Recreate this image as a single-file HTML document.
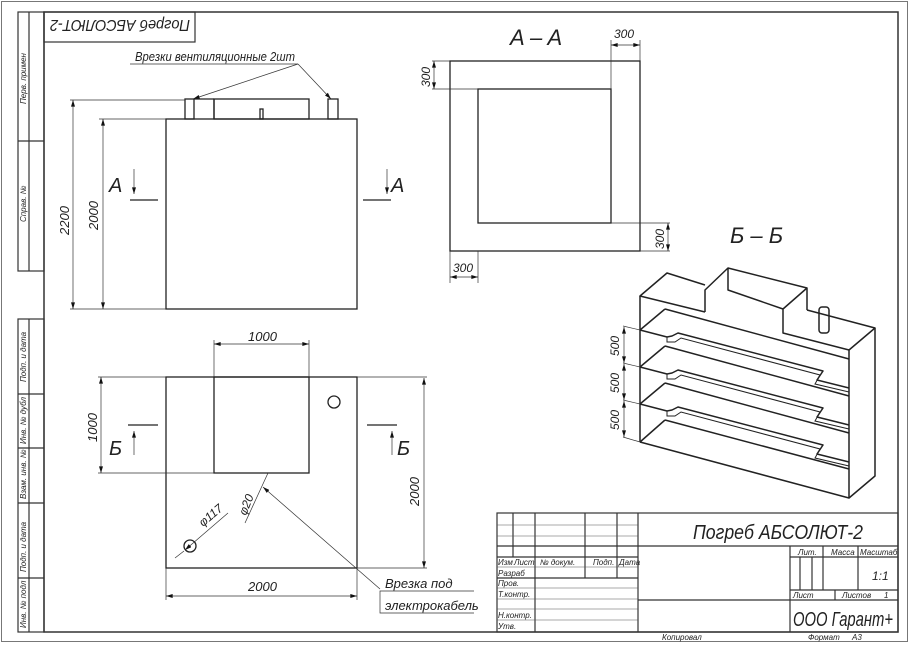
<!DOCTYPE html>
<html><head><meta charset="utf-8"><style>
html,body{margin:0;padding:0;background:#fff;}
svg{display:block;}
text{font-family:"Liberation Sans Narrow","Liberation Sans",sans-serif;font-style:italic;fill:#222;}
</style></head><body>
<svg width="910" height="645" viewBox="0 0 910 645" xmlns="http://www.w3.org/2000/svg">
<defs>
<marker id="ar" viewBox="0 0 10 6" refX="10" refY="3" markerWidth="7" markerHeight="4" orient="auto-start-reverse" markerUnits="userSpaceOnUse"><path d="M0,0 L10,3 L0,6 z" fill="#111"/></marker>
</defs>
<!-- frames -->
<rect x="1.5" y="1.5" width="906" height="640" fill="none" stroke="#777" stroke-width="1"/>
<rect x="44" y="12" width="854" height="620" fill="none" stroke="#333" stroke-width="1.5"/>
<!-- left strips -->
<g fill="none" stroke="#333" stroke-width="1.2">
<rect x="18" y="12" width="26" height="259"/><line x1="29" y1="12" x2="29" y2="271"/><line x1="18" y1="141" x2="44" y2="141"/>
<rect x="18" y="319" width="26" height="313"/><line x1="29" y1="319" x2="29" y2="632"/>
<line x1="18" y1="394" x2="44" y2="394"/><line x1="18" y1="448" x2="44" y2="448"/><line x1="18" y1="503" x2="44" y2="503"/><line x1="18" y1="578" x2="44" y2="578"/>
</g>
<g font-size="8">
<text transform="translate(26,104) rotate(-90)">Перв. примен</text>
<text transform="translate(26,222) rotate(-90)">Справ. №</text>
<text transform="translate(26,382) rotate(-90)">Подп. и дата</text>
<text transform="translate(26,444) rotate(-90)">Инв. № дубл</text>
<text transform="translate(26,499) rotate(-90)">Взам. инв. №</text>
<text transform="translate(26,572) rotate(-90)">Подп. и дата</text>
<text transform="translate(26,628) rotate(-90)">Инв. № подл</text>
</g>
<!-- top-left title box -->
<rect x="44" y="12" width="151" height="30" fill="none" stroke="#333" stroke-width="1.2"/>
<text transform="translate(190,20) rotate(180)" font-size="16" textLength="140" lengthAdjust="spacingAndGlyphs">Погреб АБСОЛЮТ-2</text>

<!-- ventilation label -->
<text x="135" y="61" font-size="13" textLength="160" lengthAdjust="spacingAndGlyphs">Врезки вентиляционные 2шт</text>
<g stroke="#333" stroke-width="0.7" fill="none">
<line x1="130" y1="64" x2="298" y2="64"/>
<line x1="298" y1="64" x2="193" y2="99" marker-end="url(#ar)"/>
<line x1="298" y1="64" x2="331" y2="99" marker-end="url(#ar)"/>
</g>
<!-- front view -->
<g stroke="#222" stroke-width="1.3" fill="none">
<rect x="166" y="119" width="191" height="190"/>
<rect x="185" y="99" width="9" height="20"/>
<line x1="194" y1="99" x2="214" y2="99"/><line x1="214" y1="99" x2="214" y2="119"/>
<rect x="214" y="99" width="95" height="20"/>
<rect x="260" y="109" width="3" height="10"/>
<rect x="328" y="99" width="10" height="20"/>
<line x1="130" y1="200" x2="158" y2="200"/><line x1="363" y1="200" x2="391" y2="200"/>
</g>
<g stroke="#333" stroke-width="0.7" fill="none">
<line x1="70" y1="100" x2="185" y2="100"/><line x1="70" y1="309" x2="166" y2="309"/><line x1="99" y1="119" x2="166" y2="119"/>
<line x1="73" y1="100" x2="73" y2="309" marker-start="url(#ar)" marker-end="url(#ar)"/>
<line x1="103" y1="119" x2="103" y2="309" marker-start="url(#ar)" marker-end="url(#ar)"/>
<line x1="134" y1="169" x2="134" y2="194" marker-end="url(#ar)"/>
<line x1="387" y1="169" x2="387" y2="194" marker-end="url(#ar)"/>
</g>
<text transform="translate(69,235) rotate(-90)" font-size="13">2200</text>
<text transform="translate(98,230) rotate(-90)" font-size="13">2000</text>
<text x="109" y="192" font-size="20">A</text>
<text x="391" y="192" font-size="20">A</text>

<!-- A-A -->
<text x="510" y="45" font-size="22">A – A</text>
<g stroke="#222" stroke-width="1.3" fill="none">
<rect x="450" y="61" width="190" height="190"/>
<rect x="478" y="89" width="133" height="134"/>
</g>
<g stroke="#333" stroke-width="0.7" fill="none">
<line x1="611" y1="40" x2="611" y2="89"/><line x1="640" y1="40" x2="640" y2="61"/>
<line x1="611" y1="45" x2="640" y2="45" marker-start="url(#ar)" marker-end="url(#ar)"/>
<line x1="432" y1="61" x2="450" y2="61"/><line x1="432" y1="89" x2="478" y2="89"/>
<line x1="434" y1="61" x2="434" y2="89" marker-start="url(#ar)" marker-end="url(#ar)"/>
<line x1="611" y1="223" x2="670" y2="223"/><line x1="640" y1="251" x2="670" y2="251"/>
<line x1="668" y1="223" x2="668" y2="251" marker-start="url(#ar)" marker-end="url(#ar)"/>
<line x1="450" y1="251" x2="450" y2="283"/><line x1="478" y1="251" x2="478" y2="283"/>
<line x1="450" y1="277" x2="478" y2="277" marker-start="url(#ar)" marker-end="url(#ar)"/>
</g>
<g font-size="12">
<text x="614" y="38">300</text>
<text transform="translate(430,87) rotate(-90)">300</text>
<text transform="translate(664,249) rotate(-90)">300</text>
<text x="453" y="272">300</text>
</g>

<!-- Б-Б -->
<text x="730" y="243" font-size="22">Б – Б</text>
<g stroke="#222" stroke-width="1.5" fill="none" stroke-linejoin="round">
<polyline points="705,312 640,296 667,273 705,285"/>
<polyline points="705,312 705,290 728,268 807,288 807,310"/>
<polyline points="807,288 783,309 783,333 849,350 875,328 807,310"/>
<polyline points="728,268 728,290 783,309"/>
<line x1="640" y1="296" x2="640" y2="442"/>
<polyline points="640,442 849,498 849,350"/>
<polyline points="849,498 875,476 875,328"/>
<rect x="819" y="307" width="10" height="26" rx="3"/>
<line x1="640" y1="330" x2="665" y2="309"/><line x1="665" y1="309" x2="849" y2="359"/>
<polyline points="640,330 667,337 672,336 678,333 823,371 817,380 849,388"/>
<line x1="640" y1="367" x2="665" y2="346"/><line x1="665" y1="346" x2="849" y2="396"/>
<polyline points="640,367 667,374 672,373 678,370 823,408 817,417 849,425"/>
<line x1="640" y1="404" x2="665" y2="383"/><line x1="665" y1="383" x2="849" y2="433"/>
<polyline points="640,404 667,411 672,410 678,407 823,445 817,454 849,462"/>
<line x1="640" y1="442" x2="665" y2="420"/><line x1="665" y1="420" x2="849" y2="469"/>
</g>
<g stroke="#222" stroke-width="1" fill="none">
<polyline points="667,337 667,342 675,342 681,338 820,375 815,384 849,392"/>
<polyline points="667,374 667,379 675,379 681,375 820,412 815,421 849,429"/>
<polyline points="667,411 667,416 675,416 681,412 820,449 815,458 849,466"/>
</g>
<g stroke="#333" stroke-width="0.7" fill="none">
<line x1="623" y1="326" x2="640" y2="330"/><line x1="623" y1="363" x2="640" y2="367"/><line x1="623" y1="400" x2="640" y2="404"/><line x1="623" y1="437" x2="640" y2="442"/>
<line x1="624" y1="327" x2="624" y2="363" marker-start="url(#ar)" marker-end="url(#ar)"/>
<line x1="624" y1="364" x2="624" y2="400" marker-start="url(#ar)" marker-end="url(#ar)"/>
<line x1="624" y1="401" x2="624" y2="437" marker-start="url(#ar)" marker-end="url(#ar)"/>
</g>
<g font-size="12">
<text transform="translate(619,356) rotate(-90)">500</text>
<text transform="translate(619,393) rotate(-90)">500</text>
<text transform="translate(619,430) rotate(-90)">500</text>
</g>

<!-- plan view -->
<g stroke="#222" stroke-width="1.3" fill="none">
<rect x="166" y="377" width="191" height="191"/>
<rect x="214" y="377" width="95" height="96"/>
<circle cx="334" cy="402" r="6"/>
<circle cx="190" cy="546" r="6"/>
<line x1="128" y1="425" x2="158" y2="425"/><line x1="367" y1="425" x2="397" y2="425"/>
</g>
<g stroke="#333" stroke-width="0.7" fill="none">
<line x1="214" y1="340" x2="214" y2="377"/><line x1="309" y1="340" x2="309" y2="377"/>
<line x1="214" y1="344" x2="309" y2="344" marker-start="url(#ar)" marker-end="url(#ar)"/>
<line x1="98" y1="377" x2="166" y2="377"/><line x1="98" y1="473" x2="214" y2="473"/>
<line x1="101" y1="377" x2="101" y2="473" marker-start="url(#ar)" marker-end="url(#ar)"/>
<line x1="357" y1="377" x2="427" y2="377"/><line x1="357" y1="568" x2="427" y2="568"/>
<line x1="424" y1="378" x2="424" y2="568" marker-start="url(#ar)" marker-end="url(#ar)"/>
<line x1="166" y1="568" x2="166" y2="600"/><line x1="357" y1="568" x2="357" y2="600"/>
<line x1="166" y1="596" x2="357" y2="596" marker-start="url(#ar)" marker-end="url(#ar)"/>
<line x1="134" y1="455" x2="134" y2="431" marker-end="url(#ar)"/>
<line x1="392" y1="455" x2="392" y2="431" marker-end="url(#ar)"/>
<line x1="228" y1="513" x2="185" y2="550" marker-end="url(#ar)"/>
<line x1="175" y1="558" x2="184" y2="551"/>
<line x1="245" y1="523" x2="268" y2="473"/>
<line x1="380" y1="589" x2="263" y2="487" marker-end="url(#ar)"/>
<polyline points="474,591 380,591 380,613 474,613"/>
</g>
<text x="248" y="341" font-size="13">1000</text>
<text transform="translate(97,442) rotate(-90)" font-size="13">1000</text>
<text transform="translate(419,506) rotate(-90)" font-size="13">2000</text>
<text x="248" y="591" font-size="13">2000</text>
<text x="109" y="455" font-size="20">Б</text>
<text x="397" y="455" font-size="20">Б</text>
<text transform="translate(203,527) rotate(-40)" font-size="12">φ117</text>
<text transform="translate(246,516) rotate(-68)" font-size="12">φ20</text>
<text x="385" y="588" font-size="13">Врезка под</text>
<text x="385" y="610" font-size="13">электрокабель</text>

<!-- title block -->
<g stroke="#333" stroke-width="1.2" fill="none">
<rect x="497" y="513" width="401" height="119"/>
<line x1="638" y1="513" x2="638" y2="632"/>
<line x1="535" y1="513" x2="535" y2="632"/>
<line x1="585" y1="513" x2="585" y2="578"/><line x1="617" y1="513" x2="617" y2="578"/>
<line x1="513" y1="513" x2="513" y2="557"/>
<line x1="497" y1="546" x2="898" y2="546"/>
<line x1="497" y1="557" x2="638" y2="557"/>
<line x1="497" y1="578" x2="638" y2="578"/>
<line x1="638" y1="600" x2="898" y2="600"/>
<line x1="790" y1="546" x2="790" y2="632"/>
<line x1="790" y1="557" x2="898" y2="557"/>
<line x1="790" y1="590" x2="898" y2="590"/>
<line x1="823" y1="546" x2="823" y2="590"/><line x1="858" y1="546" x2="858" y2="590"/>
<line x1="800" y1="557" x2="800" y2="590"/><line x1="812" y1="557" x2="812" y2="590"/>
<line x1="835" y1="590" x2="835" y2="600"/>
</g>
<g stroke="#555" stroke-width="0.6">
<line x1="497" y1="525" x2="638" y2="525"/><line x1="497" y1="536" x2="638" y2="536"/>
<line x1="497" y1="567" x2="638" y2="567"/><line x1="497" y1="588" x2="638" y2="588"/>
<line x1="497" y1="599" x2="638" y2="599"/><line x1="497" y1="609" x2="638" y2="609"/><line x1="497" y1="620" x2="638" y2="620"/>
</g>
<g font-size="8">
<text x="498" y="565">Изм</text><text x="514" y="565">Лист</text><text x="540" y="565">№ докум.</text><text x="593" y="565">Подп.</text><text x="619" y="565">Дата</text>
<text x="498" y="576">Разраб</text><text x="498" y="586">Пров.</text><text x="498" y="597">Т.контр.</text>
<text x="498" y="618">Н.контр.</text><text x="498" y="629">Утв.</text>
<text x="798" y="555">Лит.</text><text x="831" y="555">Масса</text><text x="860" y="555">Масштаб</text>
<text x="793" y="598">Лист</text><text x="842" y="598">Листов</text><text x="884" y="598">1</text>
<text x="662" y="640">Копировал</text><text x="808" y="640">Формат</text><text x="852" y="640">A3</text>
</g>
<text x="872" y="580" font-size="12">1:1</text>
<text x="693" y="539" font-size="20" textLength="170" lengthAdjust="spacingAndGlyphs">Погреб АБСОЛЮТ-2</text>
<text x="793" y="626" font-size="20" textLength="100" lengthAdjust="spacingAndGlyphs">ООО Гарант+</text>
</svg>
</body></html>
